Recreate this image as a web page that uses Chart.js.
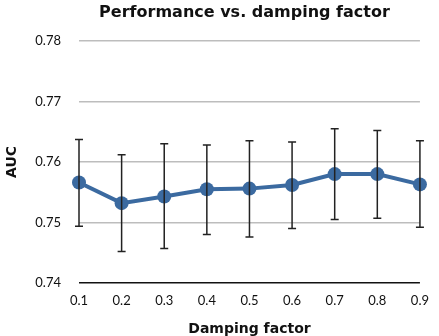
<!DOCTYPE html>
<html>
<head>
<meta charset="utf-8">
<script src="https://cdn.jsdelivr.net/npm/chart.js@4/dist/chart.umd.min.js"></script>
<style>
  html, body { margin: 0; padding: 0; background: #fff; }
  #wrap { width: 439px; height: 336px; }
</style>
</head>
<body>
<div id="wrap"><canvas id="chart"></canvas></div>
<script>
// data
const dampingFactors = ['0.1', '0.2', '0.3', '0.4', '0.5', '0.6', '0.7', '0.8', '0.9'];
const aucMean  = [0.7566, 0.7532, 0.7543, 0.7555, 0.7556, 0.7562, 0.7580, 0.7580, 0.7563];
const aucUpper = [0.7637, 0.7612, 0.7630, 0.7628, 0.7635, 0.7633, 0.7655, 0.7652, 0.7635];
const aucLower = [0.7494, 0.7452, 0.7457, 0.7480, 0.7476, 0.7490, 0.7505, 0.7507, 0.7492];
const yTicks = [0.74, 0.75, 0.76, 0.77, 0.78];

const FONT = 'Lato, "Open Sans", sans-serif';
const TITLE_FONT = '"DejaVu Sans", Verdana, sans-serif';
const lineColor = '#3b6aa0';

// error bars, drawn on top of the line
const errorBars = {
    id: 'errorBars',
    afterDatasetsDraw(chart) {
        const { ctx, scales: { x, y } } = chart;
        const cap = 4;
        ctx.save();
        ctx.strokeStyle = '#222';
        ctx.lineWidth = 1.5;
        dampingFactors.forEach((label, i) => {
            const px = x.getPixelForValue(i);
            const top = y.getPixelForValue(aucUpper[i]);
            const bot = y.getPixelForValue(aucLower[i]);
            ctx.beginPath();
            ctx.moveTo(px, top);
            ctx.lineTo(px, bot);
            ctx.moveTo(px - cap, top);
            ctx.lineTo(px + cap, top);
            ctx.moveTo(px - cap, bot);
            ctx.lineTo(px + cap, bot);
            ctx.stroke();
        });
        ctx.restore();
    },
};

// title centred over the plot area
const plotTitle = {
    id: 'plotTitle',
    afterDraw(chart) {
        const { ctx, chartArea } = chart;
        ctx.save();
        ctx.font = 'bold 16px ' + TITLE_FONT;
        ctx.fillStyle = '#111';
        ctx.textAlign = 'center';
        ctx.textBaseline = 'middle';
        ctx.fillText('Performance vs. damping factor', (chartArea.left + chartArea.right) / 2 - 5, 13);
        ctx.restore();
    },
};

new Chart(document.getElementById('chart'), {
    type: 'line',
    data: {
        labels: dampingFactors,
        datasets: [{
            label: 'AUC',
            data: aucMean,
            borderColor: lineColor,
            backgroundColor: lineColor,
            borderWidth: 4,
            pointRadius: 7,
            pointHoverRadius: 7,
            pointBorderWidth: 0,
            tension: 0,
        }],
    },
    options: {
        responsive: true,
        maintainAspectRatio: false,
        animation: false,
        layout: { padding: { top: 41, right: 10, left: 0, bottom: 0 } },
        plugins: {
            legend: { display: false },
            tooltip: { enabled: false },
        },
        scales: {
            x: {
                offset: false,
                grid: { display: false, drawTicks: false },
                border: { display: false },
                ticks: { color: '#111', font: { family: FONT, size: 13 }, padding: 10, maxRotation: 0 },
                title: {
                    display: true,
                    text: 'Damping factor',
                    color: '#111',
                    font: { family: TITLE_FONT, size: 14, weight: 'bold', lineHeight: 1 },
                    padding: 0,
                },
                afterFit: (scale) => { scale.height = 53; },
            },
            y: {
                min: 0.74,
                max: 0.78,
                afterBuildTicks: (scale) => { scale.ticks = yTicks.map((v) => ({ value: v })); },
                grid: {
                    drawTicks: false,
                    lineWidth: 1.5,
                    color: (c) => (c.index === 0 ? '#111' : '#bdbdbd'),
                },
                border: { display: false },
                ticks: {
                    color: '#111',
                    font: { family: FONT, size: 13 },
                    padding: 18,
                    callback: (v) => Number(v).toFixed(2),
                },
                title: {
                    display: true,
                    text: 'AUC',
                    color: '#111',
                    font: { family: TITLE_FONT, size: 14, weight: 'bold' },
                    padding: { top: 4, bottom: 0 },
                },
                afterFit: (scale) => { scale.width = 79; },
            },
        },
    },
    plugins: [errorBars, plotTitle],
});
</script>
</body>
</html>
